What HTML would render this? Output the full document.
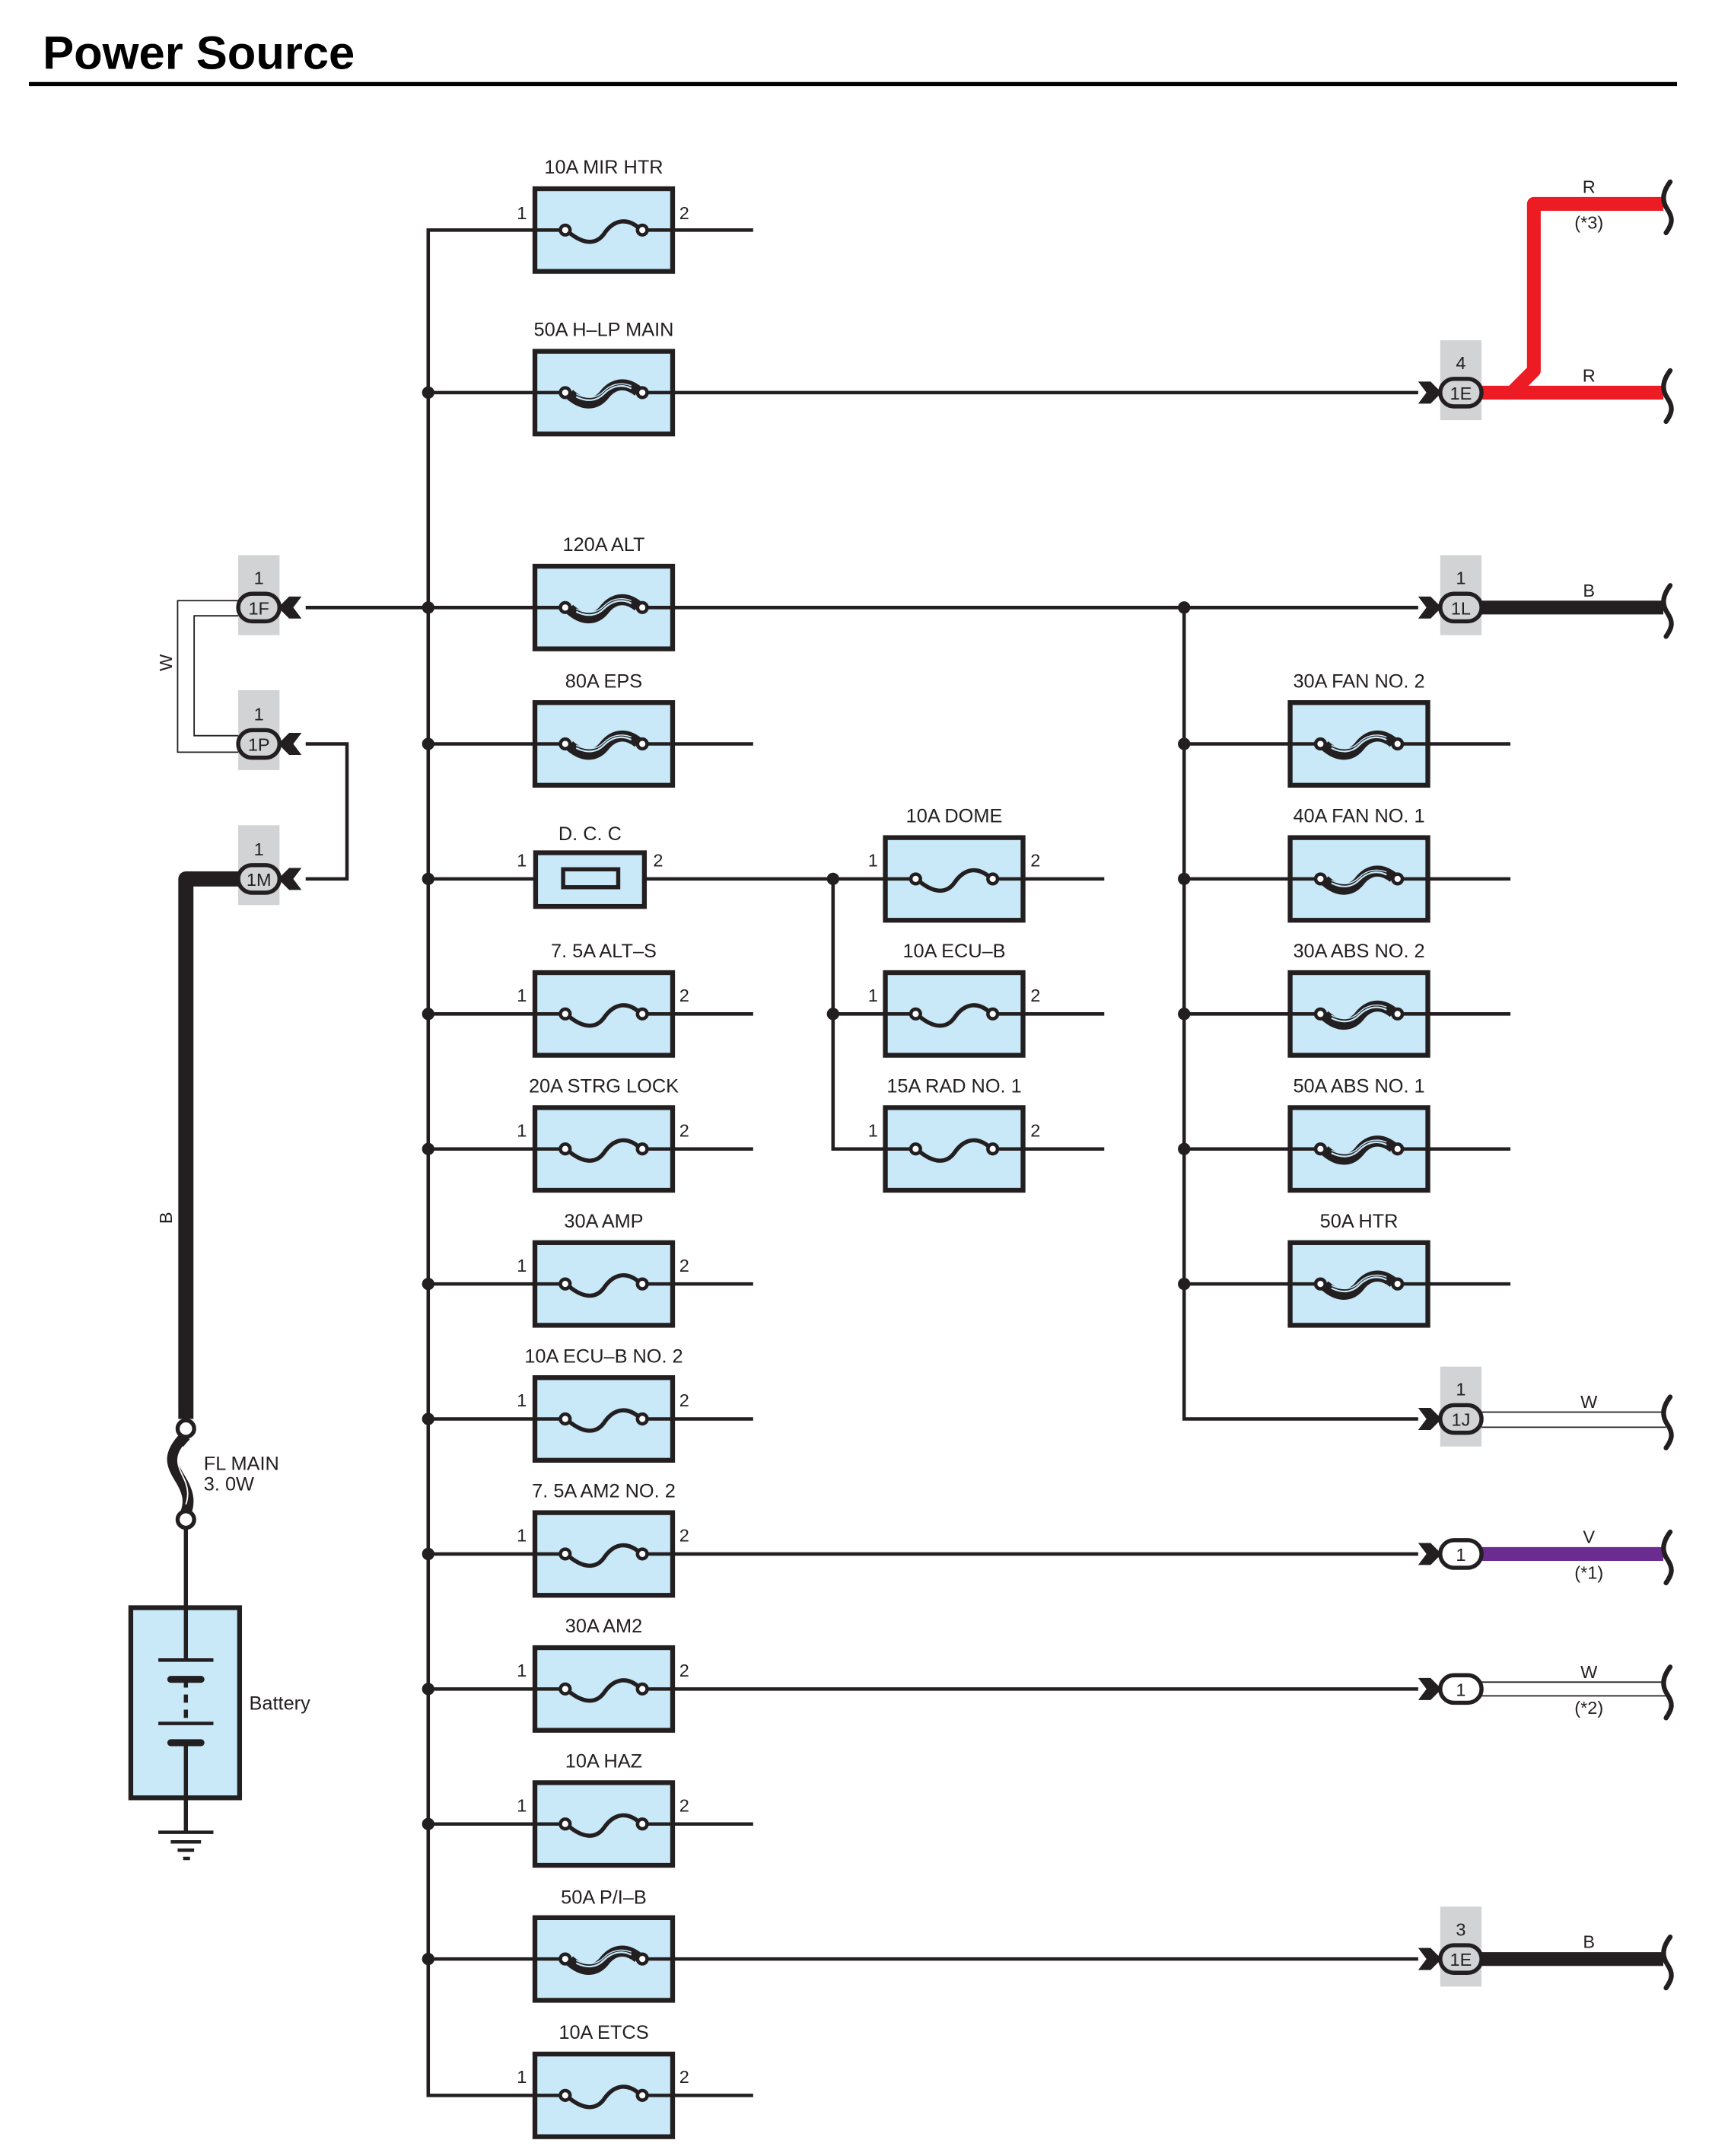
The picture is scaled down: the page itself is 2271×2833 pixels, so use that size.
<!DOCTYPE html>
<html><head><meta charset="utf-8"><style>
html,body{margin:0;padding:0;background:#fff;}
svg{display:block;}
text{font-family:"Liberation Sans",sans-serif;fill:#231f20;}
</style></head><body>
<svg width="2271" height="2833" viewBox="0 0 1255 1565" preserveAspectRatio="none" xmlns="http://www.w3.org/2000/svg">
<defs>
<g id="fs">
<rect x="-50" y="-30" width="100" height="60" fill="#c9e8f8" stroke="#231f20" stroke-width="3.5"/>
<line x1="-50" y1="0" x2="-28" y2="0" stroke="#231f20" stroke-width="2.5"/>
<line x1="28" y1="0" x2="50" y2="0" stroke="#231f20" stroke-width="2.5"/>
<path d="M-25,2 C-15,10 -6,11 0,3 C6,-6 15,-10 25,-2" fill="none" stroke="#231f20" stroke-width="3"/>
<circle cx="-28" cy="0" r="3.5" fill="#fff" stroke="#231f20" stroke-width="2.5"/>
<circle cx="28" cy="0" r="3.5" fill="#fff" stroke="#231f20" stroke-width="2.5"/>
</g>
<g id="fh">
<rect x="-50" y="-30" width="100" height="60" fill="#c9e8f8" stroke="#231f20" stroke-width="3.5"/>
<line x1="-50" y1="0" x2="-28" y2="0" stroke="#231f20" stroke-width="2.5"/>
<line x1="28" y1="0" x2="50" y2="0" stroke="#231f20" stroke-width="2.5"/>
<path d="M-25,1 C-15,10 -6,9 0,2 C6,-6 15,-9 25,-1" fill="none" stroke="#231f20" stroke-width="8"/>
<path d="M-20,3 C-12,7 -5,6 0,1 C5,-4 12,-7 20,-3" fill="none" stroke="#c9e8f8" stroke-width="1.2"/>
<path d="M-20,1 C-12,5 -5,4 0,-1 C5,-6 12,-8 20,-5" fill="none" stroke="#c9e8f8" stroke-width="0.8"/>
<circle cx="-28" cy="0" r="3.5" fill="#fff" stroke="#231f20" stroke-width="2.5"/>
<circle cx="28" cy="0" r="3.5" fill="#fff" stroke="#231f20" stroke-width="2.5"/>
</g>
<g id="cr">
<path d="M-31,-8 L-22,-8 L-14,0 L-22,8 L-31,8 L-25,0 Z" fill="#231f20"/>
<rect x="-15" y="-10" width="30" height="20" rx="10" fill="#d1d3d4" stroke="#231f20" stroke-width="3"/>
</g>
<g id="crw">
<path d="M-31,-8 L-22,-8 L-14,0 L-22,8 L-31,8 L-25,0 Z" fill="#231f20"/>
<rect x="-15" y="-10" width="30" height="20" rx="10" fill="#fff" stroke="#231f20" stroke-width="3"/>
</g>
<g id="cl">
<path d="M31,-8 L22,-8 L14,0 L22,8 L31,8 L25,0 Z" fill="#231f20"/>
<rect x="-15" y="-10" width="30" height="20" rx="10" fill="#d1d3d4" stroke="#231f20" stroke-width="3"/>
</g>
<path id="br" d="M0,-18 C-6,-10 -6,-4 -2,2 C2,8 2,12 -3,19" fill="none" stroke="#231f20" stroke-width="3.5" stroke-linecap="round"/>
</defs>

<text x="31" y="50" font-size="34" font-weight="bold" style="fill:#000">Power Source</text>
<line x1="21" y1="61" x2="1218" y2="61" stroke="#000" stroke-width="3"/>

<g fill="#d1d3d4">
<rect x="1046" y="247" width="30" height="58"/>
<rect x="1046" y="403" width="30" height="58"/>
<rect x="1046" y="992" width="30" height="58"/>
<rect x="1046" y="1384" width="30" height="58"/>
<rect x="173" y="403" width="30" height="58"/>
<rect x="173" y="501" width="30" height="58"/>
<rect x="173" y="599" width="30" height="58"/>
</g>

<g stroke="#231f20" stroke-width="2.5" fill="none">
<path d="M547,167 H311 V1521 H547"/>
<line x1="311" y1="285" x2="1030" y2="285"/>
<line x1="222" y1="441" x2="1030" y2="441"/>
<line x1="311" y1="540" x2="547" y2="540"/>
<line x1="311" y1="638" x2="802" y2="638"/>
<line x1="311" y1="736" x2="547" y2="736"/>
<line x1="311" y1="834" x2="547" y2="834"/>
<line x1="311" y1="932" x2="547" y2="932"/>
<line x1="311" y1="1030" x2="547" y2="1030"/>
<line x1="311" y1="1128" x2="1030" y2="1128"/>
<line x1="311" y1="1226" x2="1030" y2="1226"/>
<line x1="311" y1="1324" x2="547" y2="1324"/>
<line x1="311" y1="1422" x2="1030" y2="1422"/>
<path d="M802,736 H605 M605,638 V834 H802"/>
<path d="M860,441 V1030 H1030"/>
<line x1="860" y1="540" x2="1097" y2="540"/>
<line x1="860" y1="638" x2="1097" y2="638"/>
<line x1="860" y1="736" x2="1097" y2="736"/>
<line x1="860" y1="834" x2="1097" y2="834"/>
<line x1="860" y1="932" x2="1097" y2="932"/>
<path d="M222,540 H252 V638 H222"/>
</g>
<g stroke="#231f20" stroke-width="1" fill="none">
<path d="M173,436 H129 V546 H173"/>
<path d="M173,447 H141 V534 H173"/>
<path d="M1076,1025 H1210 M1076,1036 H1210"/>
<path d="M1076,1221 H1210 M1076,1231 H1210"/>
</g>
<g fill="#231f20">
<circle cx="311" cy="285" r="4.5"/><circle cx="311" cy="441" r="4.5"/><circle cx="311" cy="540" r="4.5"/>
<circle cx="311" cy="638" r="4.5"/><circle cx="311" cy="736" r="4.5"/><circle cx="311" cy="834" r="4.5"/>
<circle cx="311" cy="932" r="4.5"/><circle cx="311" cy="1030" r="4.5"/><circle cx="311" cy="1128" r="4.5"/>
<circle cx="311" cy="1226" r="4.5"/><circle cx="311" cy="1324" r="4.5"/><circle cx="311" cy="1422" r="4.5"/>
<circle cx="605" cy="638" r="4.5"/><circle cx="605" cy="736" r="4.5"/>
<circle cx="860" cy="441" r="4.5"/><circle cx="860" cy="540" r="4.5"/><circle cx="860" cy="638" r="4.5"/>
<circle cx="860" cy="736" r="4.5"/><circle cx="860" cy="834" r="4.5"/><circle cx="860" cy="932" r="4.5"/>
</g>

<path d="M1076,285 H1208 M1098,285 L1114,269 V148 H1208" fill="none" stroke="#ed1c24" stroke-width="10" stroke-linejoin="round"/>
<line x1="1076" y1="441" x2="1208" y2="441" stroke="#231f20" stroke-width="10"/>
<line x1="1076" y1="1128" x2="1208" y2="1128" stroke="#6a2c91" stroke-width="10"/>
<line x1="1076" y1="1422" x2="1208" y2="1422" stroke="#231f20" stroke-width="10"/>
<path d="M173,638 H135 V1030" fill="none" stroke="#231f20" stroke-width="11" stroke-linejoin="round"/>

<use href="#br" x="1213" y="150"/><use href="#br" x="1213" y="287"/><use href="#br" x="1213" y="443"/>
<use href="#br" x="1213" y="1032"/><use href="#br" x="1213" y="1130"/><use href="#br" x="1213" y="1228"/>
<use href="#br" x="1213" y="1424"/>

<use href="#fs" x="438.5" y="167"/>
<use href="#fh" x="438.5" y="285"/>
<use href="#fh" x="438.5" y="441"/>
<use href="#fh" x="438.5" y="540"/>
<rect x="389" y="619" width="79" height="39" fill="#c9e8f8" stroke="#231f20" stroke-width="3.5"/>
<rect x="409" y="631" width="40" height="13" fill="#c9e8f8" stroke="#231f20" stroke-width="3"/>
<use href="#fs" x="438.5" y="736"/>
<use href="#fs" x="438.5" y="834"/>
<use href="#fs" x="438.5" y="932"/>
<use href="#fs" x="438.5" y="1030"/>
<use href="#fs" x="438.5" y="1128"/>
<use href="#fs" x="438.5" y="1226"/>
<use href="#fs" x="438.5" y="1324"/>
<use href="#fh" x="438.5" y="1422"/>
<use href="#fs" x="438.5" y="1521"/>
<use href="#fs" x="693" y="638"/>
<use href="#fs" x="693" y="736"/>
<use href="#fs" x="693" y="834"/>
<use href="#fh" x="987" y="540"/>
<use href="#fh" x="987" y="638"/>
<use href="#fh" x="987" y="736"/>
<use href="#fh" x="987" y="834"/>
<use href="#fh" x="987" y="932"/>

<use href="#cr" x="1061" y="285"/>
<use href="#cr" x="1061" y="441"/>
<use href="#cr" x="1061" y="1030"/>
<use href="#crw" x="1061" y="1128"/>
<use href="#crw" x="1061" y="1226"/>
<use href="#cr" x="1061" y="1422"/>
<use href="#cl" x="188" y="441"/>
<use href="#cl" x="188" y="540"/>
<use href="#cl" x="188" y="638"/>

<g stroke="#231f20" fill="none">
<path d="M135,1042 C122,1055 124,1062 130,1072 C137,1083 138,1090 135,1098" stroke-width="8"/>
<path d="M133,1050 C127,1058 129,1064 133,1072 C137,1080 137,1086 135,1092" stroke="#fff" stroke-width="1"/>
<circle cx="135" cy="1037" r="6" fill="#fff" stroke-width="3"/>
<circle cx="135" cy="1103" r="6" fill="#fff" stroke-width="3"/>
<line x1="135" y1="1109" x2="135" y2="1167" stroke-width="3"/>
<rect x="95" y="1167" width="79" height="138" fill="#c9e8f8" stroke-width="3.5"/>
<line x1="135" y1="1167" x2="135" y2="1205" stroke-width="3"/>
<line x1="115" y1="1205" x2="155" y2="1205" stroke-width="2.5"/>
<line x1="124" y1="1219" x2="146" y2="1219" stroke-width="5" stroke-linecap="round"/>
<line x1="135" y1="1219" x2="135" y2="1251" stroke-width="3" stroke-dasharray="6,5"/>
<line x1="115" y1="1251" x2="155" y2="1251" stroke-width="2.5"/>
<line x1="124" y1="1265" x2="146" y2="1265" stroke-width="5" stroke-linecap="round"/>
<line x1="135" y1="1265" x2="135" y2="1330" stroke-width="3"/>
<line x1="115" y1="1330" x2="155" y2="1330" stroke-width="2.5"/>
<line x1="124" y1="1337" x2="146" y2="1337" stroke-width="2.5"/>
<line x1="129" y1="1343" x2="141" y2="1343" stroke-width="2.5"/>
<line x1="133" y1="1349" x2="138" y2="1349" stroke-width="2.5"/>
</g>

<g font-size="14" text-anchor="middle">
<text x="438.5" y="126">10A MIR HTR</text>
<text x="438.5" y="244">50A H–LP MAIN</text>
<text x="438.5" y="400">120A ALT</text>
<text x="438.5" y="499">80A EPS</text>
<text x="428.5" y="610">D. C. C</text>
<text x="438.5" y="695">7. 5A ALT–S</text>
<text x="438.5" y="793">20A STRG LOCK</text>
<text x="438.5" y="891">30A AMP</text>
<text x="438.5" y="989">10A ECU–B NO. 2</text>
<text x="438.5" y="1087">7. 5A AM2 NO. 2</text>
<text x="438.5" y="1185">30A AM2</text>
<text x="438.5" y="1283">10A HAZ</text>
<text x="438.5" y="1382">50A P/I–B</text>
<text x="438.5" y="1480">10A ETCS</text>
<text x="693" y="597">10A DOME</text>
<text x="693" y="695">10A ECU–B</text>
<text x="693" y="793">15A RAD NO. 1</text>
<text x="987" y="499">30A FAN NO. 2</text>
<text x="987" y="597">40A FAN NO. 1</text>
<text x="987" y="695">30A ABS NO. 2</text>
<text x="987" y="793">50A ABS NO. 1</text>
<text x="987" y="891">50A HTR</text>
</g>
<g font-size="13" text-anchor="middle">
<text x="379" y="159">1</text><text x="497" y="159">2</text>
<text x="379" y="629">1</text><text x="478" y="629">2</text>
<text x="379" y="727">1</text><text x="497" y="727">2</text>
<text x="379" y="825">1</text><text x="497" y="825">2</text>
<text x="379" y="923">1</text><text x="497" y="923">2</text>
<text x="379" y="1021">1</text><text x="497" y="1021">2</text>
<text x="379" y="1119">1</text><text x="497" y="1119">2</text>
<text x="379" y="1217">1</text><text x="497" y="1217">2</text>
<text x="379" y="1315">1</text><text x="497" y="1315">2</text>
<text x="379" y="1512">1</text><text x="497" y="1512">2</text>
<text x="634" y="629">1</text><text x="752" y="629">2</text>
<text x="634" y="727">1</text><text x="752" y="727">2</text>
<text x="634" y="825">1</text><text x="752" y="825">2</text>
<text x="1061" y="268">4</text><text x="1061" y="290">1E</text>
<text x="1061" y="424">1</text><text x="1061" y="446">1L</text>
<text x="1061" y="1013">1</text><text x="1061" y="1035">1J</text>
<text x="1061" y="1133">1</text>
<text x="1061" y="1231">1</text>
<text x="1061" y="1405">3</text><text x="1061" y="1427">1E</text>
<text x="188" y="424">1</text><text x="188" y="446">1F</text>
<text x="188" y="523">1</text><text x="188" y="545">1P</text>
<text x="188" y="621">1</text><text x="188" y="643">1M</text>
<text x="1154" y="140">R</text><text x="1154" y="166">(*3)</text>
<text x="1154" y="277">R</text>
<text x="1154" y="433">B</text>
<text x="1154" y="1022">W</text>
<text x="1154" y="1120">V</text><text x="1154" y="1146">(*1)</text>
<text x="1154" y="1218">W</text><text x="1154" y="1244">(*2)</text>
<text x="1154" y="1414">B</text>
<text transform="translate(125,481) rotate(-90)">W</text>
<text transform="translate(125,884) rotate(-90)">B</text>
</g>
<g font-size="14">
<text x="148" y="1067">FL MAIN</text>
<text x="148" y="1082">3. 0W</text>
<text x="181" y="1241">Battery</text>
</g>
</svg>
</body></html>
